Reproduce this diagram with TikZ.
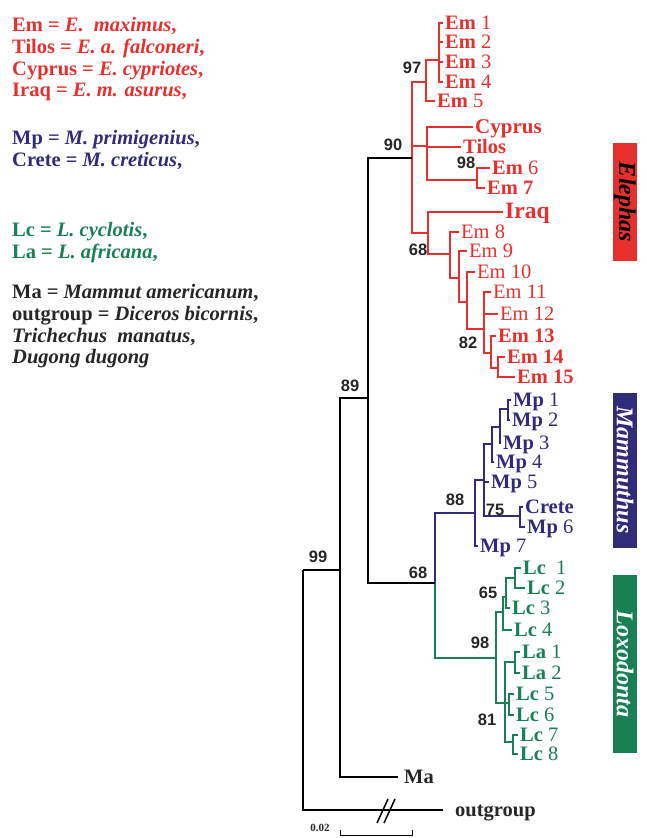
\documentclass[tikz,border=0pt]{standalone}
\usepackage{fontspec}
\setmainfont{Liberation Serif}
\newfontfamily\bootfont{Liberation Sans}
\definecolor{elered}{RGB}{230,48,46}
\definecolor{mamblue}{RGB}{48,44,122}
\definecolor{loxgreen}{RGB}{24,128,82}
\definecolor{inkgrey}{RGB}{38,38,38}
\newcommand{\taxon}[2]{\textbf{#1}~#2}
\tikzset{
  br/.style={line width=1.5pt},
  tip/.style={anchor=west, inner xsep=2.5pt, inner ysep=0pt, text height=13.5pt, text depth=0pt,
    font=\fontsize{20.5}{20}\selectfont},
  tipE/.style={tip, text=elered},
  tipM/.style={tip, text=mamblue},
  tipL/.style={tip, text=loxgreen},
  boot/.style={font=\bootfont\bfseries\fontsize{16.5}{16}\selectfont, text=inkgrey, inner sep=0pt},
  legend/.style={anchor=base west, align=left, inner sep=0pt, font=\bfseries\fontsize{20.5}{21.7}\selectfont},
  genus/.style={rotate=-90, minimum height=24pt, inner sep=0pt, font=\bfseries\itshape\fontsize{24}{24}\selectfont}
}

\begin{document}
\begin{tikzpicture}[x=1pt,y=-1pt]
\useasboundingbox (0,0) rectangle (647,838);

% legend (base = last line)
\node[legend, text=elered] (legE) at (12,96.9) {Em = \textit{E.\ \ maximus},\\Tilos = \textit{E. a. falconeri},\\Cyprus = \textit{E. cypriotes},\\Iraq = \textit{E. m. asurus},};
\node[legend, text=mamblue] (legM) at (12,166) {Mp = \textit{M. primigenius},\\Crete = \textit{M. creticus},};
\node[legend, text=loxgreen] (legL) at (12,258.5) {Lc = \textit{L. cyclotis},\\La = \textit{L. africana},};
\node[legend, text=inkgrey] (legO) at (12,363.9) {Ma = \textit{Mammut americanum},\\outgroup = \textit{Diceros bicornis},\\\textit{Trichechus\ \ manatus},\\\textit{Dugong dugong}};

% Elephas tips
\node[tipE] (em1) at (442.5,23) {\taxon{Em}{1}};
\node[tipE] (em2) at (442.5,42) {\taxon{Em}{2}};
\node[tipE] (em3) at (442.5,62) {\taxon{Em}{3}};
\node[tipE] (em4) at (442.5,82) {\taxon{Em}{4}};
\node[tipE] (em5) at (434.5,101) {\taxon{Em}{5}};
\node[tipE, font=\bfseries\fontsize{21}{20}\selectfont] (cyprus) at (472.5,127) {Cyprus};
\node[tipE, font=\bfseries\fontsize{20.5}{20}\selectfont] (tilos) at (460.5,147) {Tilos};
\node[tipE] (em6) at (489.5,168) {\taxon{Em}{6}};
\node[tipE] (em7) at (484.5,188) {\textbf{Em 7}};
\node[tipE, font=\bfseries\fontsize{23.5}{23}\selectfont] (iraq) at (502.5,212) {Iraq};
\node[tipE] (em8) at (458.5,232) {Em 8};
\node[tipE] (em9) at (466.5,251) {Em 9};
\node[tipE] (em10) at (474.5,272) {Em 10};
\node[tipE] (em11) at (490.5,292) {Em 11};
\node[tipE] (em12) at (497.5,314) {Em 12};
\node[tipE] (em13) at (495.5,336) {\textbf{Em 13}};
\node[tipE] (em14) at (504.5,357) {\textbf{Em 14}};
\node[tipE] (em15) at (514.5,377) {\textbf{Em 15}};

% Mammuthus tips
\node[tipM] (mp1) at (510.5,400) {\taxon{Mp}{1}};
\node[tipM] (mp2) at (509.5,420) {\taxon{Mp}{2}};
\node[tipM] (mp3) at (500.5,443) {\taxon{Mp}{3}};
\node[tipM] (mp4) at (493.5,462) {\taxon{Mp}{4}};
\node[tipM] (mp5) at (488.5,482) {\taxon{Mp}{5}};
\node[tipM, font=\bfseries\fontsize{20.5}{20}\selectfont] (crete) at (522.5,507) {Crete};
\node[tipM] (mp6) at (524.5,527) {\taxon{Mp}{6}};
\node[tipM] (mp7) at (477.5,546) {\taxon{Mp}{7}};

% Loxodonta tips
\node[tipL] (lc1) at (520.5,568) {\taxon{Lc}{\ 1}};
\node[tipL] (lc2) at (524.5,588) {\taxon{Lc}{2}};
\node[tipL] (lc3) at (509.5,608) {\taxon{Lc}{3}};
\node[tipL] (lc4) at (511.5,630) {\taxon{Lc}{4}};
\node[tipL] (la1) at (519.5,652) {\taxon{La}{1}};
\node[tipL] (la2) at (519.5,673) {\taxon{La}{2}};
\node[tipL] (lc5) at (513.5,694) {\taxon{Lc}{5}};
\node[tipL] (lc6) at (513.5,715) {\taxon{Lc}{6}};
\node[tipL] (lc7) at (517.5,735) {\taxon{Lc}{7}};
\node[tipL] (lc8) at (517.5,754) {\taxon{Lc}{8}};

% other tips
\node[tip, text=inkgrey, font=\bfseries\fontsize{20.5}{20}\selectfont, inner xsep=6pt] (ma) at (398,777) {Ma};
\node[tip, text=inkgrey, font=\bfseries\fontsize{20.5}{20}\selectfont, inner xsep=12pt] (outg) at (443,810) {outgroup};

% inner nodes
\coordinate (c14) at (439,60);
\coordinate (n97) at (426,82);
\coordinate (n98) at (477,180);
\coordinate (cyp) at (427,146);
\coordinate (e14) at (498,368);
\coordinate (e13) at (491,353);
\coordinate (n82) at (484,329);
\coordinate (e10) at (467,302);
\coordinate (e9) at (459,278);
\coordinate (e8) at (450,254);
\coordinate (n68e) at (428,233);
\coordinate (n90) at (412,158);
\coordinate (m12) at (508,409);
\coordinate (m3) at (500,427);
\coordinate (m4) at (492,444);
\coordinate (n75) at (520,516);
\coordinate (m5) at (484,480);
\coordinate (n88) at (475,513);
\coordinate (l12) at (515,578);
\coordinate (l3) at (506,597);
\coordinate (n65) at (503,612);
\coordinate (la12) at (515,662);
\coordinate (l56) at (509,703);
\coordinate (l78) at (513,742);
\coordinate (n81) at (505,703);
\coordinate (n98l) at (496,658);
\coordinate (n68) at (435,583);
\coordinate (n89) at (368,398);
\coordinate (n99) at (340,570);
\coordinate (root) at (303,570);

% Elephas branches
\begin{scope}[br, elered]
\foreach \t in {em1,em2,em3,em4} \draw (c14) |- (\t.west);
\draw (n97) |- (c14) (n97) |- (em5.west);
\draw (n98) |- (em6.west) (n98) |- (em7.west);
\draw (cyp) |- (cyprus.west) (cyp) |- (tilos.west) (cyp) |- (n98);
\draw (e14) |- (em14.west) (e14) |- (em15.west);
\draw (e13) |- (em13.west) (e13) |- (e14);
\draw (n82) |- (em11.west) (n82) |- (em12.west) (n82) |- (e13);
\draw (e10) |- (em10.west) (e10) |- (n82);
\draw (e9) |- (em9.west) (e9) |- (e10);
\draw (e8) |- (em8.west) (e8) |- (e9);
\draw (n68e) |- (iraq.west) (n68e) |- (e8);
\draw (n90) |- (n97) (n90) |- (cyp) (n90) |- (n68e);
\end{scope}

% Mammuthus branches
\begin{scope}[br, mamblue]
\draw (m12) |- (mp1.west) (m12) |- (mp2.west);
\draw (m3) |- (m12) (m3) |- (mp3.west);
\draw (m4) |- (m3) (m4) |- (mp4.west);
\draw (n75) |- (crete.west) (n75) |- (mp6.west);
\draw (m5) |- (m4) (m5) |- (mp5.west) (m5) |- (n75);
\draw (n88) |- (m5) (n88) |- (mp7.west);
\draw (n68) |- (n88);
\end{scope}

% Loxodonta branches
\begin{scope}[br, loxgreen]
\draw (l12) |- (lc1.west) (l12) |- (lc2.west);
\draw (l3) |- (l12) (l3) |- (lc3.west);
\draw (n65) |- (l3) (n65) |- (lc4.west);
\draw (la12) |- (la1.west) (la12) |- (la2.west);
\draw (l56) |- (lc5.west) (l56) |- (lc6.west);
\draw (l78) |- (lc7.west) (l78) |- (lc8.west);
\draw (n81) |- (la12) (n81) -- (l56) (n81) |- (l78);
\draw (n98l) |- (n65) (n98l) |- (n81);
\draw (n68) |- (n98l);
\end{scope}

% backbone
\draw[br] (n89) |- (n90) (n89) |- (n68);
\draw[br] (n99) |- (n89) (n99) |- (ma.west);
\draw[br] (root) -- (n99) (root) |- (outg.west);
\draw[br] (377,823) -- (388,799);
\draw[br] (384,823) -- (395,799);

% support values
\node[boot] (b97) at (412,68) {97};
\node[boot] (b90) at (393,145) {90};
\node[boot] (b98) at (466,163) {98};
\node[boot] (b68e) at (418,250) {68};
\node[boot] (b82) at (468,343) {82};
\node[boot] (b89) at (350,386) {89};
\node[boot] (b99) at (318,557) {99};
\node[boot] (b88) at (455,500) {88};
\node[boot] (b75) at (495,510) {75};
\node[boot] (b68) at (418,573) {68};
\node[boot] (b65) at (488,593) {65};
\node[boot] (b98l) at (480,643) {98};
\node[boot] (b81) at (487,720) {81};

% scale
\node[font=\bfseries\fontsize{11}{11}\selectfont, text=inkgrey, inner sep=0pt] (scl) at (320,828) {0.02};
\draw[line width=1pt] (340,830) -- (340,835) -- (412,835) -- (412,830);

% genus boxes
\node[genus, fill=elered, text=black, minimum width=118pt] (gE) at (625,202) {Elephas};
\node[genus, fill=mamblue, text=white, minimum width=155pt] (gM) at (625,470) {Mammuthus};
\node[genus, fill=loxgreen, text=white, minimum width=178pt] (gL) at (625,664) {Loxodonta};
\end{tikzpicture}
\end{document}
